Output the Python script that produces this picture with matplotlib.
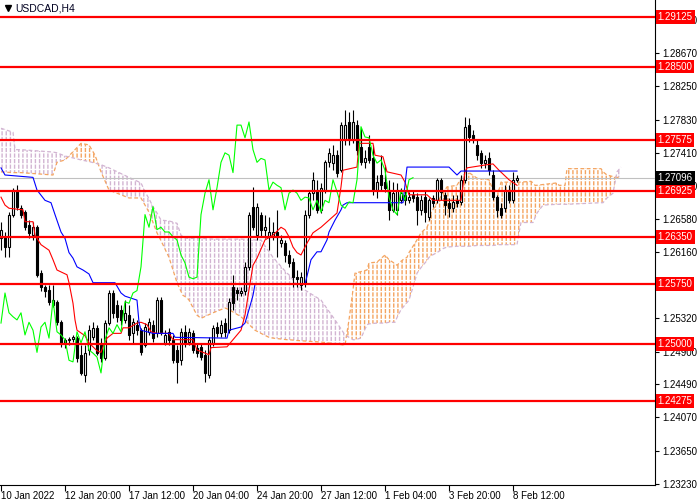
import numpy as np
import matplotlib
matplotlib.use("Agg")
import matplotlib.pyplot as plt

symbol_title = "USDCAD,H4"

# H4 candles, bar 0 = 10 Jan 2022 00:00
opens = [
    1.2633, 1.2635, 1.2622, 1.2663, 1.2694, 1.2671, 1.2666, 1.2650, 1.2637, 1.2647,
    1.2589, 1.2571, 1.2568, 1.2549, 1.2553, 1.2527, 1.2501, 1.2505, 1.2506, 1.2507,
    1.2486, 1.2460, 1.2492, 1.2508, 1.2520, 1.2498, 1.2482, 1.2526, 1.2564, 1.2549,
    1.2543, 1.2530, 1.2536, 1.2513, 1.2524, 1.2517, 1.2498, 1.2515, 1.2524, 1.2513,
    1.2555, 1.2501, 1.2515, 1.2505, 1.2492, 1.2479, 1.2515, 1.2502, 1.2513, 1.2495,
    1.2496, 1.2486, 1.2460, 1.2501, 1.2521, 1.2513, 1.2526, 1.2517, 1.2571, 1.2568,
    1.2564, 1.2566, 1.2597, 1.2673, 1.2637, 1.2663, 1.2644, 1.2635, 1.2635, 1.2641,
    1.2627, 1.2627, 1.2612, 1.2603, 1.2584, 1.2574, 1.2577, 1.2663, 1.2690, 1.2694,
    1.2669, 1.2694, 1.2729, 1.2728, 1.2738, 1.2719, 1.2757, 1.2780, 1.2757, 1.2776,
    1.2748, 1.2729, 1.2748, 1.2734, 1.2694, 1.2713, 1.2704, 1.2694, 1.2669, 1.2669,
    1.2681, 1.2688, 1.2681, 1.2688, 1.2685, 1.2669, 1.2685, 1.2660, 1.2684, 1.2681,
    1.2707, 1.2688, 1.2678, 1.2671, 1.2681, 1.2679, 1.2707, 1.2776, 1.2763, 1.2751,
    1.2741, 1.2728, 1.2734, 1.2713, 1.2685, 1.2671, 1.2671, 1.2694, 1.2681, 1.2707,
]
highs = [
    1.2654, 1.2641, 1.2666, 1.2697, 1.2700, 1.2675, 1.2669, 1.2656, 1.2654, 1.2650,
    1.2593, 1.2574, 1.2574, 1.2574, 1.2555, 1.2530, 1.2507, 1.2508, 1.2511, 1.2510,
    1.2498, 1.2498, 1.2524, 1.2527, 1.2524, 1.2507, 1.2530, 1.2568, 1.2568, 1.2555,
    1.2549, 1.2555, 1.2549, 1.2532, 1.2530, 1.2520, 1.2526, 1.2532, 1.2530, 1.2559,
    1.2559, 1.2517, 1.2520, 1.2511, 1.2498, 1.2520, 1.2524, 1.2520, 1.2517, 1.2501,
    1.2501, 1.2492, 1.2508, 1.2524, 1.2527, 1.2530, 1.2532, 1.2558, 1.2587, 1.2572,
    1.2571, 1.2603, 1.2666, 1.2698, 1.2678, 1.2666, 1.2663, 1.2660, 1.2654, 1.2669,
    1.2637, 1.2631, 1.2618, 1.2608, 1.2593, 1.2591, 1.2669, 1.2694, 1.2717, 1.2707,
    1.2703, 1.2732, 1.2747, 1.2751, 1.2745, 1.2780, 1.2795, 1.2793, 1.2795, 1.2782,
    1.2772, 1.2745, 1.2763, 1.2751, 1.2713, 1.2738, 1.2726, 1.2707, 1.2704, 1.2703,
    1.2697, 1.2694, 1.2692, 1.2694, 1.2690, 1.2688, 1.2694, 1.2684, 1.2688, 1.2709,
    1.2709, 1.2692, 1.2684, 1.2688, 1.2688, 1.2713, 1.2786, 1.2785, 1.2770, 1.2757,
    1.2745, 1.2738, 1.2742, 1.2719, 1.2688, 1.2678, 1.2700, 1.2700, 1.2717, 1.2713,
]
lows = [
    1.2618, 1.2609, 1.2609, 1.2660, 1.2669, 1.2659, 1.2644, 1.2633, 1.2631, 1.2584,
    1.2566, 1.2559, 1.2549, 1.2546, 1.2524, 1.2496, 1.2495, 1.2498, 1.2502, 1.2477,
    1.2460, 1.2452, 1.2486, 1.2505, 1.2486, 1.2477, 1.2479, 1.2524, 1.2532, 1.2527,
    1.2524, 1.2526, 1.2505, 1.2501, 1.2511, 1.2486, 1.2496, 1.2511, 1.2502, 1.2508,
    1.2511, 1.2498, 1.2498, 1.2475, 1.2450, 1.2473, 1.2496, 1.2498, 1.2488, 1.2483,
    1.2479, 1.2452, 1.2457, 1.2497, 1.2508, 1.2508, 1.2508, 1.2513, 1.2543, 1.2555,
    1.2560, 1.2561, 1.2593, 1.2644, 1.2631, 1.2635, 1.2633, 1.2618, 1.2631, 1.2609,
    1.2622, 1.2603, 1.2597, 1.2572, 1.2571, 1.2568, 1.2571, 1.2659, 1.2681, 1.2665,
    1.2665, 1.2690, 1.2723, 1.2719, 1.2710, 1.2717, 1.2751, 1.2751, 1.2753, 1.2738,
    1.2726, 1.2722, 1.2728, 1.2688, 1.2684, 1.2694, 1.2692, 1.2656, 1.2666, 1.2663,
    1.2678, 1.2675, 1.2678, 1.2679, 1.2650, 1.2663, 1.2654, 1.2656, 1.2673, 1.2678,
    1.2681, 1.2663, 1.2660, 1.2666, 1.2673, 1.2675, 1.2703, 1.2755, 1.2753, 1.2732,
    1.2722, 1.2722, 1.2713, 1.2681, 1.2660, 1.2659, 1.2666, 1.2678, 1.2678, 1.2704,
]
closes = [
    1.2644, 1.2622, 1.2663, 1.2694, 1.2673, 1.2663, 1.2647, 1.2640, 1.2647, 1.2587,
    1.2571, 1.2566, 1.2553, 1.2555, 1.2527, 1.2501, 1.2505, 1.2506, 1.2508, 1.2482,
    1.2463, 1.2488, 1.2517, 1.2520, 1.2488, 1.2482, 1.2526, 1.2564, 1.2539, 1.2534,
    1.2530, 1.2539, 1.2511, 1.2527, 1.2517, 1.2489, 1.2521, 1.2527, 1.2507, 1.2555,
    1.2515, 1.2511, 1.2505, 1.2479, 1.2477, 1.2515, 1.2501, 1.2515, 1.2492, 1.2488,
    1.2483, 1.2463, 1.2505, 1.2520, 1.2513, 1.2524, 1.2515, 1.2553, 1.2551, 1.2564,
    1.2567, 1.2597, 1.2663, 1.2647, 1.2673, 1.2644, 1.2647, 1.2641, 1.2641, 1.2635,
    1.2631, 1.2612, 1.2602, 1.2584, 1.2582, 1.2584, 1.2663, 1.2690, 1.2707, 1.2669,
    1.2697, 1.2729, 1.2741, 1.2738, 1.2716, 1.2776, 1.2776, 1.2760, 1.2780, 1.2745,
    1.2729, 1.2734, 1.2732, 1.2694, 1.2704, 1.2700, 1.2697, 1.2669, 1.2690, 1.2694,
    1.2690, 1.2681, 1.2685, 1.2684, 1.2669, 1.2681, 1.2666, 1.2681, 1.2678, 1.2707,
    1.2692, 1.2675, 1.2671, 1.2679, 1.2678, 1.2707, 1.2774, 1.2761, 1.2760, 1.2738,
    1.2728, 1.2732, 1.2719, 1.2685, 1.2669, 1.2663, 1.2694, 1.2681, 1.2707, 1.27096,
]

# Ichimoku lines (bar, price)
tenkan_bars = [0, 1, 2, 5.5, 6, 8, 8.5, 10, 12, 13, 14, 16.5, 17, 18, 18.5, 19, 21, 22, 24, 25,
               25.5, 26.5, 28, 30, 30.5, 32, 34, 35, 36.5, 37.5, 39, 42, 43, 48, 49, 52, 52.5,
               56.5, 58, 60, 61, 62, 63, 64, 66, 68, 70, 71, 72, 73, 74, 75, 76.5, 78, 80, 82,
               84, 85, 85.5, 89, 89.5, 93, 93.5, 95.5, 96.5, 100, 101, 102, 106.5, 108, 115,
               115.5, 116, 116.5, 121.5, 123, 124.5, 127, 129]
tenkan_vals = [1.2685, 1.2675, 1.2671, 1.2669, 1.2654, 1.2654, 1.2637, 1.2625, 1.2618, 1.2606,
               1.2593, 1.2587, 1.2577, 1.2551, 1.2530, 1.2517, 1.2510, 1.2501, 1.2491, 1.2489,
               1.2496, 1.2507, 1.2513, 1.2513, 1.2520, 1.2520, 1.2526, 1.2527, 1.2524, 1.2515,
               1.2513, 1.2513, 1.2505, 1.2505, 1.2492, 1.2486, 1.2495, 1.2496, 1.2505, 1.2517,
               1.2536, 1.2568, 1.2599, 1.2608, 1.2631, 1.2637, 1.2647, 1.2644, 1.2635, 1.2622,
               1.2615, 1.2612, 1.2627, 1.2640, 1.2647, 1.2656, 1.2665, 1.2698, 1.2719, 1.2723,
               1.2753, 1.2753, 1.2738, 1.2736, 1.2717, 1.2713, 1.2704, 1.2688, 1.2688, 1.2681,
               1.2681, 1.2700, 1.2717, 1.2722, 1.2726, 1.2727, 1.2719, 1.2707, 1.2700]

kijun_bars = [0, 1, 8, 9, 11, 12.5, 13.5, 15, 16, 17, 18, 19, 20.5, 22, 23, 28.5, 30, 31, 34,
              34.5, 35, 38, 43, 43.5, 56.5, 57, 60, 61, 62, 63, 63.5, 76, 77.5, 79, 80, 81.5,
              82, 83.5, 85, 85.5, 86.5, 100.5, 101.5, 112, 114, 115, 129]
kijun_vals = [1.2722, 1.2713, 1.2710, 1.2694, 1.2681, 1.2678, 1.2663, 1.2641, 1.2633, 1.2615,
              1.2608, 1.2597, 1.2593, 1.2588, 1.2577, 1.2577, 1.2564, 1.2560, 1.2555, 1.2527,
              1.2517, 1.2513, 1.2513, 1.2508, 1.2507, 1.2517, 1.2521, 1.2526, 1.2543, 1.2561,
              1.2575, 1.2575, 1.2606, 1.2616, 1.2616, 1.2631, 1.2641, 1.2656, 1.2669, 1.2675,
              1.2678, 1.2678, 1.2723, 1.2723, 1.2713, 1.2718, 1.2718]

cloud_bars = [0, 3, 3.5, 5, 13, 14, 16, 18.5, 20, 22, 23.5, 25, 27, 32, 35, 36, 37, 38, 39, 40,
              42, 44, 45, 45.5, 46.5, 47, 49, 50, 53, 56, 57, 60, 63.5, 65, 67, 68, 71.5, 72,
              74, 80, 83.5, 86, 87, 88, 88.5, 90, 91.5, 92, 94, 96, 97, 98.5, 99, 100, 100.5,
              101.5, 102, 103.5, 104, 105, 106.5, 107, 107.5, 109, 110.5, 111.5, 114, 115.5,
              117, 119, 122, 123, 124.5, 125, 129, 129.5, 130, 132.5, 133, 133.5, 134, 135.5,
              139, 139.5, 141, 141.5, 150, 150.5, 151.5, 153, 154, 155]
span_a = [1.2717, 1.2716, 1.2716, 1.2716, 1.2713, 1.2729, 1.2732, 1.2745, 1.2753, 1.2751,
          1.2738, 1.2717, 1.2694, 1.2684, 1.2684, 1.2675, 1.2666, 1.2653, 1.2640, 1.2630,
          1.2609, 1.2577, 1.2566, 1.2561, 1.2558, 1.2555, 1.2536, 1.2532, 1.2539, 1.2545,
          1.2543, 1.2534, 1.2517, 1.2513, 1.2508, 1.2507, 1.2505, 1.2505, 1.2504, 1.2502,
          1.2500, 1.2498, 1.2530, 1.2568, 1.2589, 1.2591, 1.2593, 1.2602, 1.2603, 1.2612,
          1.2606, 1.2601, 1.2599, 1.2604, 1.2606, 1.2609, 1.2615, 1.2627, 1.2631, 1.2640,
          1.2647, 1.2653, 1.2665, 1.2678, 1.2690, 1.2698, 1.2700, 1.2713, 1.2716, 1.2709,
          1.2707, 1.2694, 1.2694, 1.2704, 1.2704, 1.2704, 1.2704, 1.2705, 1.2703, 1.2700,
          1.2700, 1.2701, 1.2703, 1.2700, 1.2700, 1.2721, 1.2721, 1.2717, 1.2713, 1.2711,
          1.2710, 1.2710]
span_b = [1.2772, 1.2767, 1.2745, 1.2745, 1.2742, 1.2741, 1.2737, 1.2734, 1.2732, 1.2730,
          1.2728, 1.2726, 1.2722, 1.2710, 1.2703, 1.2692, 1.2683, 1.2673, 1.2665, 1.2656,
          1.2655, 1.2652, 1.2637, 1.2635, 1.2633, 1.2633, 1.2633, 1.2633, 1.2632, 1.2632,
          1.2632, 1.2632, 1.2631, 1.2631, 1.2616, 1.2609, 1.2589, 1.2587, 1.2574, 1.2555,
          1.2530, 1.2511, 1.2508, 1.2505, 1.2505, 1.2507, 1.2524, 1.2525, 1.2526, 1.2526,
          1.2527, 1.2527, 1.2533, 1.2543, 1.2546, 1.2552, 1.2555, 1.2580, 1.2589, 1.2596,
          1.2605, 1.2609, 1.2611, 1.2615, 1.2620, 1.2622, 1.2623, 1.2623, 1.2623, 1.2624,
          1.2624, 1.2624, 1.2625, 1.2625, 1.2625, 1.2640, 1.2653, 1.2653, 1.2653, 1.2659,
          1.2665, 1.2675, 1.2676, 1.2676, 1.2676, 1.2676, 1.2678, 1.2678, 1.2684, 1.2690,
          1.2717, 1.2723]
chikou_shift = 26

levels = [1.29125, 1.28500, 1.27575, 1.26925, 1.26350, 1.25750, 1.25000, 1.24275]
current_price = 1.27096

price_ticks = [1.29090, 1.28670, 1.28250, 1.27830, 1.27410, 1.26990, 1.26580, 1.26160,
               1.25740, 1.25320, 1.24900, 1.24490, 1.24070, 1.23650, 1.23230]
# 1.25740 sits fully under the 1.25750 box in the terminal, so no text for it
price_tick_labels = ["1.29090", "1.28670", "1.28250", "1.27830", "1.27410", "1.26990",
                     "1.26580", "1.26160", "", "1.25320", "1.24900", "1.24490", "1.24070",
                     "1.23650", "1.23230"]
time_ticks = [0, 16, 32, 48, 64, 80, 96, 112, 128]
time_labels = ["10 Jan 2022", "12 Jan 20:00", "17 Jan 12:00", "20 Jan 04:00", "24 Jan 20:00",
               "27 Jan 12:00", "1 Feb 04:00", "3 Feb 20:00", "8 Feb 12:00"]


def draw_cloud(ax):
    xb = np.array(cloud_bars)
    a = np.array(span_a)
    b = np.array(span_b)
    ax.fill_between(xb, a, b, where=a >= b, interpolate=True, facecolor='none',
                    edgecolor='#f4a460', hatch='||||', linewidth=0, zorder=1)
    ax.fill_between(xb, a, b, where=a < b, interpolate=True, facecolor='none',
                    edgecolor='#d2b4d2', hatch='||||', linewidth=0, zorder=1)
    # white breaks so the hatch looks dotted like the terminal
    ax.fill_between(xb, a, b, facecolor='none', edgecolor='white', hatch='---',
                    linewidth=0, zorder=1.5)
    ax.plot(xb, a, color='#f4a460', lw=0.9, ls=(0, (3, 2)), zorder=2)
    ax.plot(xb, b, color='#d2b4d2', lw=0.9, ls=(0, (3, 2)), zorder=2)


def draw_candles(ax):
    o = np.array(opens)
    h = np.array(highs)
    l = np.array(lows)
    c = np.array(closes)
    x = np.arange(len(o))
    ax.vlines(x, l, h, color='black', lw=0.8, zorder=4)
    up = c >= o
    ax.bar(x[up], c[up] - o[up], bottom=o[up], width=0.55, facecolor='white',
           edgecolor='black', linewidth=0.8, zorder=5)
    ax.bar(x[~up], o[~up] - c[~up], bottom=c[~up], width=0.55, facecolor='black',
           edgecolor='black', linewidth=0.8, zorder=5)


def price_label(ax, price, color):
    ax.text(1.004, price, f"{price:.5f}", transform=ax.get_yaxis_transform(),
            ha='left', va='center', fontsize=7, color='white', zorder=10, clip_on=False,
            bbox=dict(boxstyle='square,pad=0.2', fc=color, ec='none'))


if __name__ == "__main__":
    plt.rcParams['font.family'] = ['Liberation Sans', 'DejaVu Sans']
    plt.rcParams['hatch.linewidth'] = 1.0

    fig = plt.figure(figsize=(7, 5), dpi=100)
    ax = fig.add_axes([0, 15 / 500, 655 / 700, 485 / 500])
    ax.set_xlim(-0.25, 163.5)
    ax.set_ylim(1.23215, 1.29340)

    draw_cloud(ax)
    ax.axhline(current_price, color='#c0c0c0', lw=0.8, zorder=3)
    draw_candles(ax)

    ax.plot(tenkan_bars, tenkan_vals, color='red', lw=0.8, zorder=6)
    ax.plot(kijun_bars, kijun_vals, color='blue', lw=0.8, zorder=6)
    n = len(closes)
    ax.plot(np.arange(n - chikou_shift), closes[chikou_shift:], color='#00ff00', lw=0.8, zorder=6)

    for lv in levels:
        ax.axhline(lv, color='red', lw=1.6, zorder=7)
        price_label(ax, lv, 'red')
    price_label(ax, current_price, 'black')

    ax.yaxis.tick_right()
    ax.set_yticks(price_ticks)
    ax.set_yticklabels(price_tick_labels)
    ax.tick_params(axis='y', direction='out', length=3, width=0.8, labelsize=7, pad=2)
    ax.set_xticks(time_ticks)
    ax.set_xticklabels(time_labels, ha='left')
    ax.tick_params(axis='x', direction='out', length=4, width=0.8, labelsize=7, pad=0.5)
    for side in ['left', 'top']:
        ax.spines[side].set_visible(False)
    for side in ['right', 'bottom']:
        ax.spines[side].set_linewidth(0.8)

    ax.plot([0.012], [0.984], marker='v', color='black', markersize=4,
            transform=ax.transAxes, clip_on=False)
    ax.text(0.023, 0.993, symbol_title, transform=ax.transAxes, ha='left', va='top',
            fontsize=7.5, color='#000020')

    fig.savefig("out.png", dpi=100)
